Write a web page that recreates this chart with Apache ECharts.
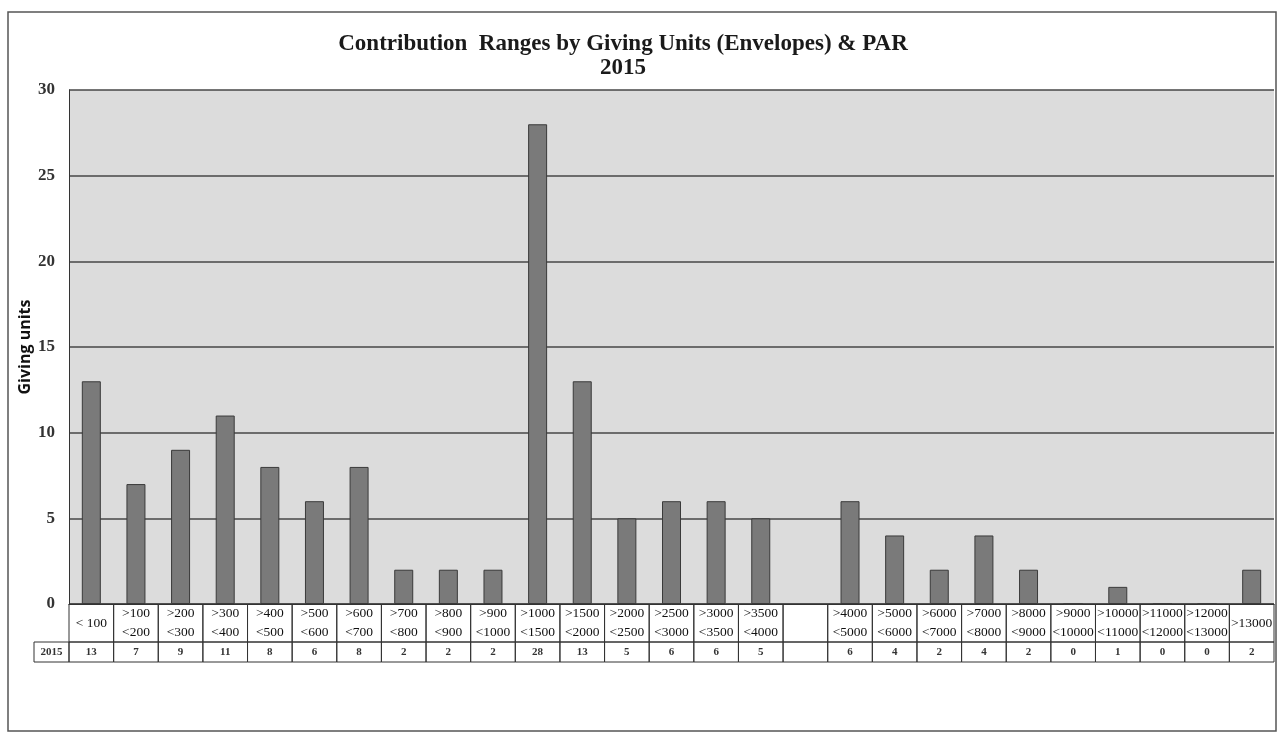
<!DOCTYPE html>
<html>
<head>
<meta charset="utf-8">
<style>
  html, body { margin: 0; padding: 0; background: #fff; }
  #chart { width: 1282px; height: 734px; }
</style>
<script src="https://cdn.jsdelivr.net/npm/echarts@6/dist/echarts.min.js"></script>
</head>
<body>
<div id="chart"></div>
<script>
// Contribution ranges (first and second line of each table cell); '' marks the gap column
const rangeFrom = ['< 100', '>100', '>200', '>300', '>400', '>500', '>600', '>700', '>800', '>900',
  '>1000', '>1500', '>2000', '>2500', '>3000', '>3500', '',
  '>4000', '>5000', '>6000', '>7000', '>8000', '>9000', '>10000', '>11000', '>12000', '>13000'];
const rangeTo = ['', '<200', '<300', '<400', '<500', '<600', '<700', '<800', '<900', '<1000',
  '<1500', '<2000', '<2500', '<3000', '<3500', '<4000', '',
  '<5000', '<6000', '<7000', '<8000', '<9000', '<10000', '<11000', '<12000', '<13000', ''];
// Giving units in each range, 2015
const units2015 = [13, 7, 9, 11, 8, 6, 8, 2, 2, 2, 28, 13, 5, 6, 6, 5, null,
  6, 4, 2, 4, 2, 0, 1, 0, 0, 2];
const yTicks = { min: 0, max: 30, interval: 5 };
const seriesName = '2015';

const categories = rangeFrom.map((a, i) => i + ':' + a);

const W = 1282, H = 734;
const gridLeft = 69, gridRight = 8, gridTop = 90, gridBottom = 130;
const row1H = 38, row2H = 20;
const serif = 'Liberation Serif';

const chart = echarts.init(document.getElementById('chart'), null, { renderer: 'canvas' });
const cellW = (W - gridLeft - gridRight) / categories.length;

const option = {
  backgroundColor: '#ffffff',
  animation: false,
  title: {
    text: 'Contribution  Ranges by Giving Units (Envelopes) & PAR\n2015',
    left: 618,
    top: 27,
    textAlign: 'center',
    textStyle: { fontFamily: serif, fontWeight: 'bold', fontSize: 23, lineHeight: 24, color: '#1a1a1a' }
  },
  grid: {
    left: gridLeft, right: gridRight, top: gridTop, bottom: gridBottom,
    show: true, backgroundColor: '#dcdcdc', borderWidth: 0,
    containLabel: false, outerBoundsMode: 'none'
  },
  xAxis: [
    {
      type: 'category',
      data: categories,
      position: 'bottom',
      axisLine: { show: true, lineStyle: { color: '#333', width: 1 } },
      axisTick: { show: false },
      axisLabel: {
        interval: 0,
        margin: 0,
        width: cellW,
        height: row1H,
        padding: 0,
        borderColor: '#333',
        borderWidth: 1,
        align: 'center',
        verticalAlign: 'top',
        overflow: 'none',
        formatter: (v, i) => {
          const a = rangeFrom[i], b = rangeTo[i];
          if (!a) return '{one| }';
          if (!b) return '{one|' + a + '}';
          return '{two|' + a + '}\n{two|' + b + '}';
        },
        rich: {
          one: { fontFamily: serif, fontSize: 13.5, color: '#111', lineHeight: row1H, align: 'center' },
          two: { fontFamily: serif, fontSize: 13.5, color: '#111', lineHeight: row1H / 2, align: 'center' }
        }
      }
    },
    {
      type: 'category',
      data: categories,
      position: 'bottom',
      offset: row1H,
      axisLine: { show: false },
      axisTick: { show: false },
      axisLabel: {
        interval: 0,
        margin: 0,
        width: cellW,
        height: row2H,
        lineHeight: row2H,
        padding: 0,
        borderColor: '#333',
        borderWidth: 1,
        align: 'center',
        verticalAlign: 'top',
        fontFamily: serif,
        fontWeight: 'bold',
        fontSize: 11,
        color: '#333',
        formatter: (v, i) => (units2015[i] == null ? ' ' : String(units2015[i]))
      }
    }
  ],
  yAxis: {
    type: 'value',
    min: yTicks.min,
    max: yTicks.max,
    interval: yTicks.interval,
    name: 'Giving units',
    nameLocation: 'middle',
    nameGap: 36,
    nameMoveOverlap: false,
    nameTextStyle: { fontFamily: 'Open Sans', fontWeight: 'bold', fontSize: 16, color: '#111' },
    axisLine: { show: true, lineStyle: { color: '#333', width: 1 } },
    axisTick: { show: false },
    axisLabel: { margin: 14, fontFamily: serif, fontWeight: 'bold', fontSize: 17, color: '#333' },
    splitLine: { show: true, lineStyle: { color: '#474747', width: 1.6 } }
  },
  series: [
    {
      name: seriesName,
      type: 'bar',
      xAxisIndex: 0,
      data: units2015,
      barWidth: 19,
      itemStyle: { color: '#7a7a7a', borderColor: '#3a3a3a', borderWidth: 1 }
    }
  ],
  graphic: [
    {
      type: 'rect',
      silent: true,
      shape: { x: 8, y: 12, width: W - 14, height: H - 15 },
      style: { fill: 'none', stroke: '#555', lineWidth: 1.5 }
    },
    {
      type: 'rect',
      silent: true,
      shape: { x: 34, y: H - gridBottom + row1H, width: gridLeft - 34, height: row2H },
      style: { fill: 'none', stroke: '#333', lineWidth: 1 }
    },
    {
      type: 'text',
      silent: true,
      x: (34 + gridLeft) / 2,
      y: H - gridBottom + row1H + row2H / 2,
      style: { text: seriesName, fontFamily: serif, fontWeight: 'bold', fontSize: 11, fill: '#333', align: 'center', verticalAlign: 'middle' }
    }
  ]
};

chart.setOption(option);
</script>
</body>
</html>
